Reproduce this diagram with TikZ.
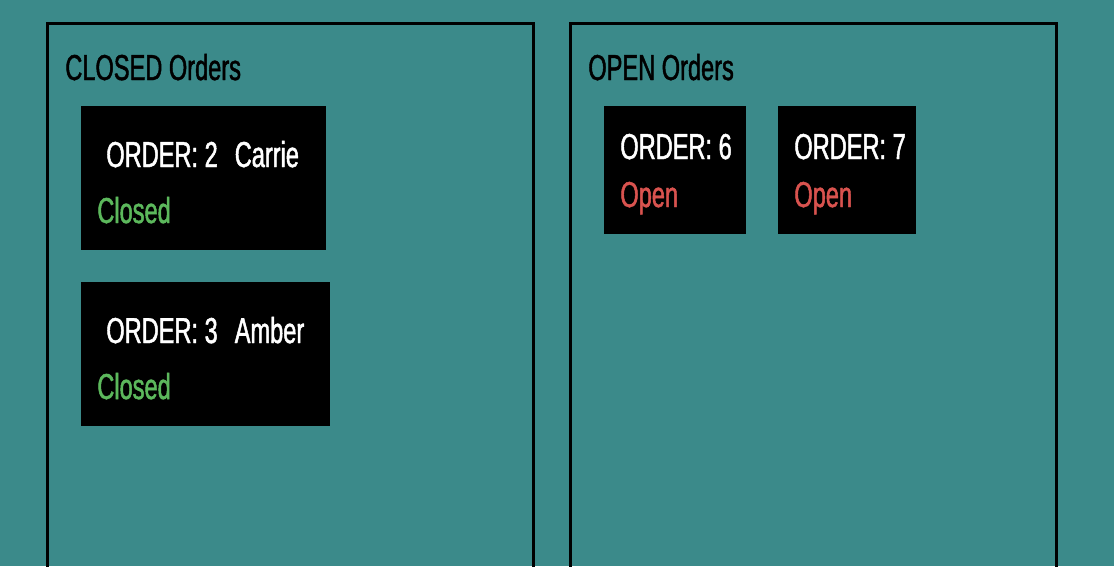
\documentclass[tikz,border=0pt]{standalone}
\usepackage{fontspec}
\setmainfont[FakeStretch=0.655,FakeBold=1.3]{Liberation Sans}
\definecolor{bgteal}{HTML}{3B8A8A}
\definecolor{okgreen}{HTML}{5CB85C}
\definecolor{openred}{HTML}{D9534F}

\begin{document}
\begin{tikzpicture}
	[%%%%%%%%%%%%%%%%%%%%%%%%%%%%%%
	x=0.02cm,y=-0.02cm,
	panel/.style={rectangle,draw=black,line width=0.06cm,outer sep=0,anchor=north west,minimum width=9.72cm,minimum height=11.13cm},
	card/.style={rectangle,fill=black,anchor=north west,inner sep=0,outer sep=0},
	txt/.style={anchor=base west,inner sep=0,font=\fontsize{20.5}{24}\selectfont},
	title/.style={txt,text=black},
	order/.style={txt,text=white},
	closed/.style={txt,text=okgreen},
	open/.style={txt,text=openred},
	]%%%%%%%%%%%%%%%%%%%%%%%%%%%%%%
	
	\useasboundingbox (0,0) rectangle (1114,566);
	\fill[bgteal] (0,0) rectangle (1114,566);
	\clip (0,0) rectangle (1114,566);
	
	\node[panel] (closedpanel) at (47.5,23.5){};
	\node[panel] (openpanel) at (570.5,23.5){};
	\node[title] (closedtitle) at (65,80){CLOSED Orders};
	\node[title] (opentitle) at (588,80){OPEN Orders};
	
	\node[card,minimum width=4.9cm,minimum height=2.88cm] (card2) at (81,106){};
	\node[card,minimum width=4.98cm,minimum height=2.88cm] (card3) at (81,282){};
	\node[card,minimum width=2.84cm,minimum height=2.56cm] (card6) at (604,106){};
	\node[card,minimum width=2.76cm,minimum height=2.56cm] (card7) at (778,106){};
	
	\node[order] (order2) at (106,167){ORDER: 2\hspace{0.34cm}Carrie};
	\node[closed] (status2) at (97,223){Closed};
	\node[order] (order3) at (106,343){ORDER: 3\hspace{0.34cm}Amber};
	\node[closed] (status3) at (97,399){Closed};
	\node[order] (order6) at (620,159){ORDER: 6};
	\node[open] (status6) at (620,207){Open};
	\node[order] (order7) at (794,159){ORDER: 7};
	\node[open] (status7) at (794,207){Open};
	
	\end{tikzpicture}
\end{document}
